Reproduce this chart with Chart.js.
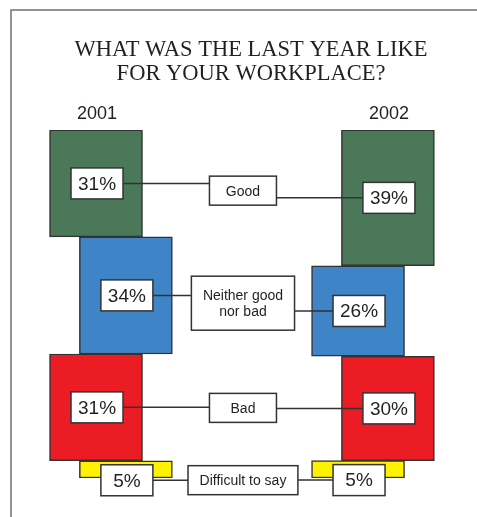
<!DOCTYPE html>
<html>
<head>
<meta charset="utf-8">
<script src="https://cdn.jsdelivr.net/npm/chart.js@4/dist/chart.umd.min.js"></script>
<style>
  body { margin: 0; background: #fff; }
  canvas { display: block; }
</style>
</head>
<body>
<canvas id="workChart" width="477" height="517"></canvas>
<script>
// data
const years = ["2001", "2002"];
const categories = ["Good", "Neither good nor bad", "Bad", "Difficult to say"];
const values2001 = [31, 34, 31, 5];
const values2002 = [39, 26, 30, 5];

const colors = ["#4a7859", "#3e84c6", "#ec1c24", "#fff200"];
const edge = "#333333";
const ink = "#231f20";
const sans = '"Liberation Sans", Arial, sans-serif';

// each column is scaled to its own total so both end at the same place
const cumulative = (vals) => {
    const total = vals.reduce((a, b) => a + b, 0);
    let run = 0;
    return vals.map(v => {
        const start = run / total * 100;
        run += v;
        return [start, run / total * 100];
    });
};
const spans = [cumulative(values2001), cumulative(values2002)];
const valuesByYear = [values2001, values2002];

// zig-zag: boxes step sideways from one row to the next
const stagger = 0.057;
const shift = (i, yi) => (i % 2 === 0 ? -1 : 1) * (yi === 0 ? 1 : -1) * stagger;

const datasets = categories.map((cat, i) => ({
    label: cat,
    data: years.map((y, yi) => ({ x: yi + shift(i, yi), y: spans[yi][i] })),
    backgroundColor: colors[i],
    borderColor: edge,
    borderWidth: 1.5,
    borderSkipped: false,
    barThickness: 93,
    grouped: false
}));

const frame = {
    id: "frame",
    beforeDraw(chart) {
        const c = chart.ctx;
        c.save();
        c.strokeStyle = "#707070";
        c.lineWidth = 1.5;
        c.beginPath();
        c.moveTo(11, chart.height);
        c.lineTo(11, 10);
        c.lineTo(chart.width, 10);
        c.stroke();
        c.restore();
    }
};

const boxAt = (c, cx, cy, w, h) => {
    c.fillStyle = "#fff";
    c.fillRect(cx - w / 2, cy - h / 2, w, h);
    c.strokeStyle = edge;
    c.lineWidth = 1.5;
    c.strokeRect(cx - w / 2, cy - h / 2, w, h);
};

const labels = {
    id: "labels",
    afterDatasetsDraw(chart) {
        const c = chart.ctx;
        c.save();
        c.textAlign = "center";
        c.textBaseline = "middle";

        // year headings above the first box of each column
        const first = chart.getDatasetMeta(0).data;
        c.fillStyle = ink;
        c.font = "18px " + sans;
        first.forEach((el, yi) => {
            c.fillText(years[yi], el.x + 1, chart.chartArea.top - 16);
        });

        categories.forEach((cat, i) => {
            const els = chart.getDatasetMeta(i).data;
            const pct = els.map(el => {
                const p = el.getProps(["x", "y", "base"], true);
                const top = Math.min(p.y, p.base), bot = Math.max(p.y, p.base);
                const bh = 31;
                const cy = bot - top > bh + 4 ? (top + bot) / 2 : top + 4 + bh / 2;
                return { cx: p.x + 1, cy: cy, w: 52, h: bh };
            });

            c.font = "14px " + sans;
            const lines = cat === "Neither good nor bad" ? ["Neither good", "nor bad"] : [cat];
            const tw = Math.max(...lines.map(t => c.measureText(t).width));
            const lw = Math.max(67, tw + 23);
            const lh = lines.length > 1 ? 54 : 29;
            const lx = (pct[0].cx + pct[1].cx) / 2;
            const ly = (pct[0].cy + pct[1].cy) / 2;
            const clampY = (y) => Math.min(Math.max(y, ly - lh / 2 + 5), ly + lh / 2 - 5);

            // connector lines
            c.strokeStyle = edge;
            c.lineWidth = 1.5;
            c.beginPath();
            const yL = clampY(pct[0].cy);
            c.moveTo(pct[0].cx + pct[0].w / 2, yL);
            c.lineTo(lx - lw / 2, yL);
            const yR = clampY(pct[1].cy);
            c.moveTo(lx + lw / 2, yR);
            c.lineTo(pct[1].cx - pct[1].w / 2, yR);
            c.stroke();

            // percentage boxes
            pct.forEach((b, yi) => {
                boxAt(c, b.cx, b.cy, b.w, b.h);
                c.fillStyle = ink;
                c.font = "19px " + sans;
                c.fillText(valuesByYear[yi][i] + "%", b.cx, b.cy + 1);
            });

            // category box
            boxAt(c, lx, ly, lw, lh);
            c.fillStyle = ink;
            c.font = "14px " + sans;
            lines.forEach((t, k) => {
                c.fillText(t, lx, ly + (k - (lines.length - 1) / 2) * 16 + 1);
            });
        });
        c.restore();
    }
};

new Chart(document.getElementById("workChart"), {
    type: "bar",
    data: { datasets: datasets },
    options: {
        responsive: false,
        animation: false,
        layout: { padding: { left: 25, right: 0, top: 0, bottom: 39 } },
        scales: {
            x: { type: "linear", min: -0.328, max: 1.397, offset: false, display: false },
            y: { min: 0, max: 100, reverse: true, display: false }
        },
        plugins: {
            legend: { display: false },
            tooltip: { enabled: false },
            title: {
                display: true,
                text: ["WHAT WAS THE LAST YEAR LIKE", "FOR YOUR WORKPLACE?"],
                color: ink,
                font: { family: '"Liberation Serif", "Times New Roman", serif', size: 22.5, weight: "normal", lineHeight: 1.067 },
                padding: { top: 38, bottom: 44 }
            }
        }
    },
    plugins: [frame, labels]
});
</script>
</body>
</html>
